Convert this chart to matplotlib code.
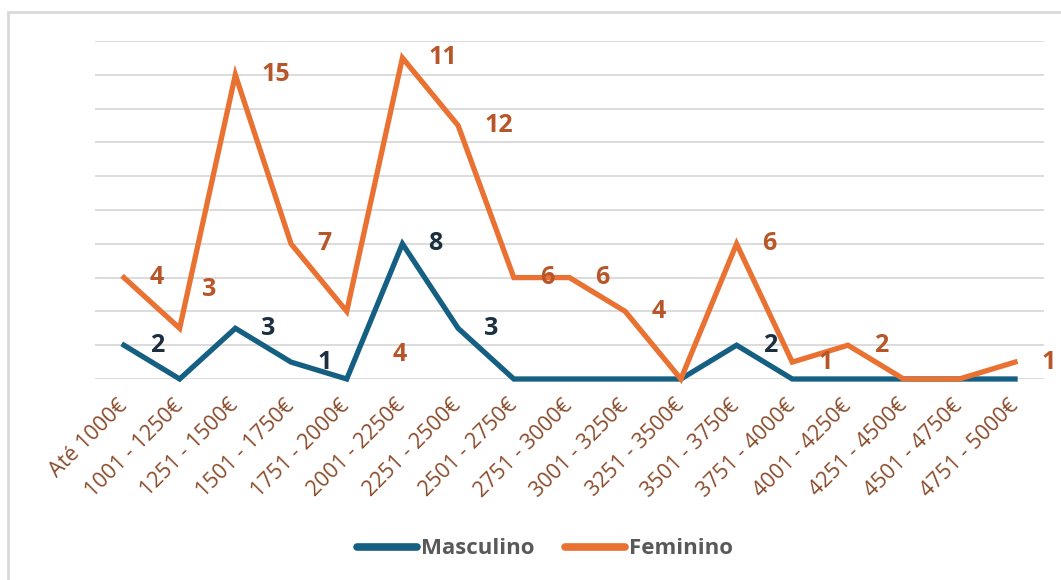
"""Salary band distribution by gender, line chart with manual data labels."""

import matplotlib.pyplot as plt
from matplotlib.patches import Rectangle

CATEGORIES = [
    "Até 1000€", "1001 - 1250€", "1251 - 1500€", "1501 - 1750€", "1751 - 2000€",
    "2001 - 2250€", "2251 - 2500€", "2501 - 2750€", "2751 - 3000€", "3001 - 3250€",
    "3251 - 3500€", "3501 - 3750€", "3751 - 4000€", "4001 - 4250€", "4251 - 4500€",
    "4501 - 4750€", "4751 - 5000€",
]
MASC = [1, 0, 1.5, 0.5, 0, 4, 1.5, 0, 0, 0, 0, 1, 0, 0, 0, 0, 0]
FEM = [3, 1.5, 9, 4, 2, 9.5, 7.5, 3, 3, 2, 0, 4, 0.5, 1, 0, 0, 0.5]
MASC_LABELS = ["2", None, "3", "1", None, "8", "3", None, None, None,
               None, "2", None, None, None, None, None]
FEM_LABELS = ["4", "3", "15", "7", "4", "11", "12", "6", "6", "4",
              None, "6", "1", "2", None, None, "1"]

C_MASC = "#156082"
C_FEM = "#E97132"
C_MASC_TXT = "#1B2F40"
C_FEM_TXT = "#B8562A"
C_TICK = "#8A4B2A"
FONT = ["Open Sans", "DejaVu Sans"]

# label offsets in pixels (dx to left edge, dy), default (26, 0)
FEM_OFFSETS = {1: (22, 39), 4: (46, -43)}
MASC_OFFSETS = {}

fig = plt.figure(figsize=(10.61, 5.80), dpi=100)
fig.patches.append(Rectangle((8 / 1061, -0.01), 1.1, 1 - 12 / 580 + 0.01,
                             transform=fig.transFigure, fill=False,
                             edgecolor="#D9D9D9", linewidth=2.0))
ax = fig.add_axes([95 / 1061, 1 - 379 / 580, (1044 - 95) / 1061, (379 - 41) / 580])

x = list(range(len(CATEGORIES)))
ax.set_xlim(-0.52, len(CATEGORIES) - 0.48)
ax.set_ylim(0, 10)
ax.set_yticks(range(0, 11))
ax.yaxis.grid(True, color="#D9D9D9", linewidth=1.3)
ax.set_axisbelow(True)
ax.tick_params(axis="y", left=False, labelleft=False)
ax.tick_params(axis="x", length=0, pad=17)
for s in ax.spines.values():
    s.set_visible(False)

ax.plot(x, MASC, color=C_MASC, linewidth=3.8, solid_joinstyle="miter",
        label="Masculino", clip_on=False, zorder=3)
ax.plot(x, FEM, color=C_FEM, linewidth=3.8, solid_joinstyle="miter",
        label="Feminino", clip_on=False, zorder=4)

ax.set_xticks(x)
ax.set_xticklabels(CATEGORIES, rotation=45, ha="right", va="center",
                   rotation_mode="anchor", fontsize=15.5, color=C_TICK,
                   family=FONT)
for lab in ax.get_xticklabels():
    lab.set_x(lab.get_position()[0] + 0.2)


def add_labels(values, labels, offsets, color):
    for i, (v, t) in enumerate(zip(values, labels)):
        if t is None:
            continue
        dx, dy = offsets.get(i, (26, 0))
        ax.annotate(t, (i, v), xytext=(dx, dy), textcoords="offset pixels",
                    ha="left", va="center", fontsize=18, fontweight="bold",
                    color=color, family=FONT, annotation_clip=False, zorder=5)


add_labels(FEM, FEM_LABELS, FEM_OFFSETS, C_FEM_TXT)
add_labels(MASC, MASC_LABELS, MASC_OFFSETS, C_MASC_TXT)

leg = fig.legend(loc="center", bbox_to_anchor=(545 / 1061, 1 - 549 / 580),
                 ncol=2, frameon=False, handlelength=2.7, handletextpad=0.15,
                 columnspacing=1.4, prop={"family": FONT, "weight": "bold", "size": 16})
for t in leg.get_texts():
    t.set_color("#595959")
for h in leg.legend_handles:
    h.set_linewidth(5.5)
    h.set_solid_capstyle("round")

fig.savefig("out.png", dpi=100, facecolor="white")
